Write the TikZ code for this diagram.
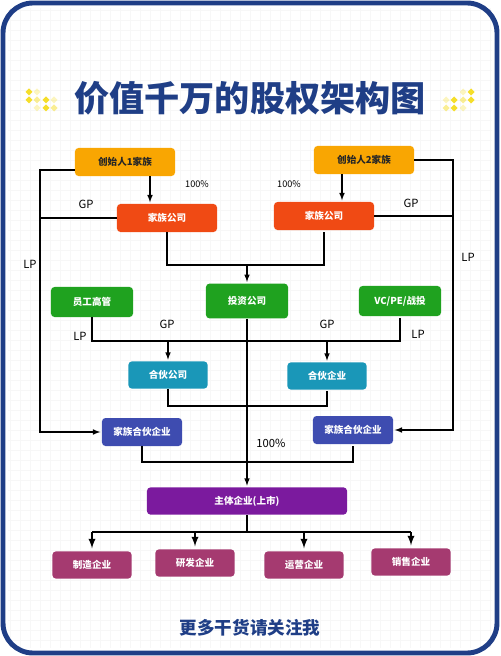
\documentclass[tikz,border=0pt]{standalone}
\usepackage{fontspec}
\setmainfont{Noto Sans CJK SC}
\definecolor{navy}{HTML}{1F3E86}
\definecolor{founderc}{HTML}{F9A602}
\definecolor{famc}{HTML}{F04A14}
\definecolor{greenc}{HTML}{1FA21F}
\definecolor{tealc}{HTML}{1A97B8}
\definecolor{indigoc}{HTML}{3E4CB0}
\definecolor{mainc}{HTML}{7B1A9E}
\definecolor{subc}{HTML}{A53A70}
\definecolor{sparkc}{HTML}{F5DE2A}
\tikzset{
  box/.style={rounded corners=2.5pt,inner sep=0pt,text=white,
    font=\bfseries\fontsize{6.8}{7}\selectfont},
  lab/.style={font=\fontsize{8}{9}\selectfont},
  link/.style={line width=0.8pt,shorten >=1pt}
}
\begin{document}
\begin{tikzpicture}[x=0.025cm,y=-0.025cm,>=latex]
\useasboundingbox (0,0) rectangle (500,656);
\draw[black!3,step=0.25cm] (8,8) grid (492,648);
\draw[navy,line width=3.5pt,rounded corners=0.75cm] (3,3) rectangle (497,653);
\foreach \x/\y/\o in {29/92/1,37/92/0.3,29/100/1,37/100/0.5,46/100/1,54/100/0.3,37/108/0.3,46/108/1,54/108/0.5}{
  \fill[sparkc,opacity=\o] (\x,\y) +(0,-3.5) -- +(3.5,0) -- +(0,3.5) -- +(-3.5,0) -- cycle;
  \fill[sparkc,opacity=\o] (500-\x,\y) +(0,-3.5) -- +(3.5,0) -- +(0,3.5) -- +(-3.5,0) -- cycle;
}
\node[font=\bfseries\fontsize{25}{27}\selectfont,text=navy] (title) at (250,98) {价值千万的股权架构图};
\node[font=\bfseries\fontsize{12.5}{14}\selectfont,text=navy] (footer) at (250,628) {更多干货请关注我};

\node[box,fill=founderc,text=black!85,minimum width=2.5cm,minimum height=0.7cm] (founderA) at (125,162) {创始人1家族};
\node[box,fill=founderc,text=black!85,minimum width=2.5cm,minimum height=0.7cm] (founderB) at (364,160) {创始人2家族};
\node[box,fill=famc,minimum width=2.5cm,minimum height=0.7cm] (famcoA) at (167,218) {家族公司};
\node[box,fill=famc,minimum width=2.5cm,minimum height=0.7cm] (famcoB) at (324,216) {家族公司};
\node[box,fill=greenc,minimum width=2.05cm,minimum height=0.75cm] (staff) at (92,302) {员工高管};
\node[box,fill=greenc,minimum width=2.05cm,minimum height=0.87cm] (invest) at (247,301) {投资公司};
\node[box,fill=greenc,minimum width=2.05cm,minimum height=0.75cm] (vcpe) at (400,301) {VC/PE/战投};
\node[box,fill=tealc,minimum width=1.98cm,minimum height=0.68cm] (partco) at (168,375) {合伙公司};
\node[box,fill=tealc,minimum width=1.98cm,minimum height=0.68cm] (partent) at (327,376) {合伙企业};
\node[box,fill=indigoc,minimum width=2cm,minimum height=0.7cm] (fampA) at (142,432) {家族合伙企业};
\node[box,fill=indigoc,minimum width=2cm,minimum height=0.7cm] (fampB) at (353,430) {家族合伙企业};
\node[box,fill=mainc,minimum width=5cm,minimum height=0.68cm] (mainco) at (247,501) {主体企业(上市)};
\node[box,fill=subc,minimum width=1.98cm,minimum height=0.68cm] (subA) at (92,565) {制造企业};
\node[box,fill=subc,minimum width=1.98cm,minimum height=0.68cm] (subB) at (195,563) {研发企业};
\node[box,fill=subc,minimum width=1.98cm,minimum height=0.68cm] (subC) at (304,565) {运营企业};
\node[box,fill=subc,minimum width=1.98cm,minimum height=0.68cm] (subD) at (411,562) {销售企业};

\draw[link,->] (150,0 |- founderA.south) -- (150,0 |- famcoA.north);
\draw[link,->] (342,0 |- founderB.south) -- (342,0 |- famcoB.north);
\draw[link,->] ([yshift=-0.2cm]founderA.west) -| (40,432) -- (fampA.west);
\draw[link] (famcoA.west) -- (40,218);
\draw[link,->] (founderB.east) -| (453,430) -- (fampB.east);
\draw[link] (famcoB.east) -- (453,216);
\draw[link] (famcoA.south) |- (famcoB.south |- 0,265) -- (famcoB.south);
\draw[link,->] (247,265) -- (invest.north);
\draw[link] (staff.south) |- (vcpe.south |- 0,341) -- (vcpe.south);
\draw[link,->] (partco.north |- 0,341) -- (partco.north);
\draw[link,->] (partent.north |- 0,341) -- (partent.north);
\draw[link] (partco.south) |- (partent.south |- 0,406) -- (partent.south);
\draw[link] (fampA.south) |- (fampB.south |- 0,462) -- (fampB.south);
\draw[link,->] (invest.south) -- (mainco.north);
\draw[line width=1.6pt] (mainco.south) -- (247,532);
\draw[line width=1.3pt] (subA.north |- 0,532) -- (subD.north |- 0,532);
\foreach \s in {subA,subB,subC,subD}
  \draw[line width=1.3pt,->,shorten >=2pt] (\s.north |- 0,532) -- (\s.north);

\node[lab,font=\fontsize{6.5}{7}\selectfont] (pctA) at (197,184) {100\%};
\node[lab,font=\fontsize{6.5}{7}\selectfont] (pctB) at (289,184) {100\%};
\node[lab] (gpA) at (86,204) {GP};
\node[lab] (lpA) at (30,264) {LP};
\node[lab] (gpB) at (411,203) {GP};
\node[lab] (lpB) at (468,257) {LP};
\node[lab] (lpC) at (80,336) {LP};
\node[lab] (gpC) at (167,324) {GP};
\node[lab] (gpD) at (327,324) {GP};
\node[lab] (lpD) at (418,334) {LP};
\node[lab] (pctC) at (271,443) {100\%};
\end{tikzpicture}
\end{document}
